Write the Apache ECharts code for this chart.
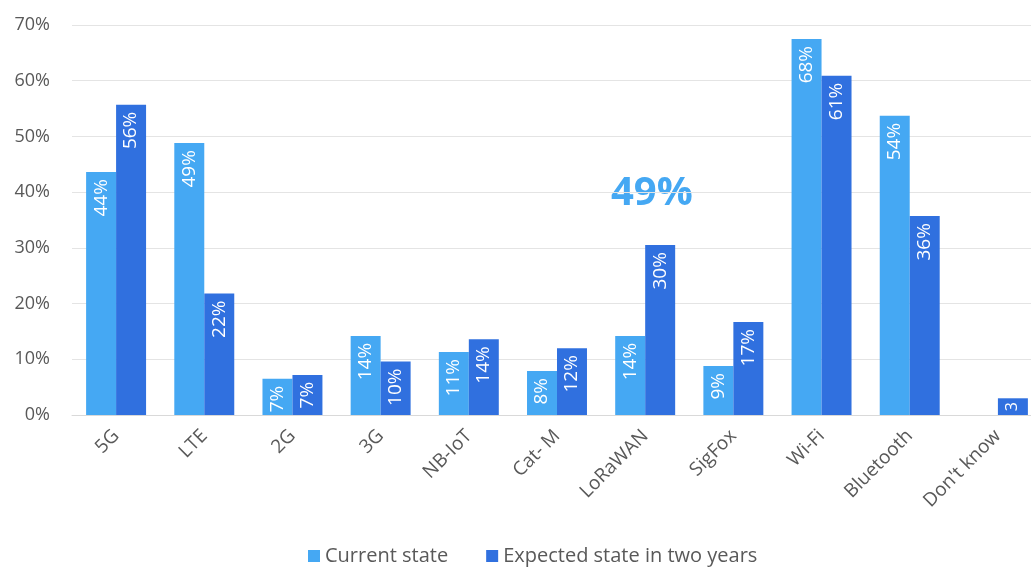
<!DOCTYPE html>
<html><head><meta charset="utf-8">
<script src="https://cdn.jsdelivr.net/npm/echarts@6/dist/echarts.min.js"></script>
<style>html,body{margin:0;padding:0;background:#fff}#c{width:1031px;height:567px}</style>
</head><body><div id="c"></div>
<script>
const categories = ["5G","LTE","2G","3G","NB-IoT","Cat- M","LoRaWAN","SigFox","Wi-Fi","Bluetooth","Don't know"];
const currentState = [43.6,48.8,6.5,14.2,11.3,7.9,14.2,8.8,67.5,53.7,0];
const currentLabels = ["44%","49%","7%","14%","11%","8%","14%","9%","68%","54%",""];
const expectedState = [55.7,21.8,7.2,9.6,13.6,12.0,30.5,16.7,60.9,35.7,3.0];
const expectedLabels = ["56%","22%","7%","10%","14%","12%","30%","17%","61%","36%","3"];
const seriesNames = ["Current state","Expected state in two years"];
const yTicks = [0,10,20,30,40,50,60,70];
const annotationText = "49%";

const FONT = "Open Sans";
const chart = echarts.init(document.getElementById('c'));
function lbl(arr){
  return {show:true, position:'insideTop', rotate:90, align:'right', verticalAlign:'middle',
    distance:7, color:'#fff', fontFamily:FONT, fontSize:19,
    formatter:p=>arr[p.dataIndex]};
}
function items(vals){
  return vals.map(v => v < 4 && v > 0
    ? {value:v, label:{position:'inside', align:'center', distance:0, fontSize:16, lineHeight:16}}
    : v);
}
chart.setOption({
  animation:false,
  textStyle:{fontFamily:FONT},
  grid:{left:72,width:970,top:25,bottom:152,outerBoundsMode:'none',containLabel:false},
  legend:{bottom:-4,left:303,itemWidth:12,itemHeight:12,itemGap:38,icon:'rect',
    textStyle:{fontFamily:FONT,fontSize:20,color:'#595959'},data:seriesNames},
  xAxis:{type:'category',data:categories,
    axisLine:{lineStyle:{color:'#d9d9d9'}},axisTick:{show:false},
    axisLabel:{rotate:45,interval:0,color:'#595959',fontSize:19,fontFamily:FONT,margin:18}},
  yAxis:{type:'value',min:yTicks[0],max:yTicks[yTicks.length-1],interval:10,
    axisLabel:{formatter:v=>v+'%',color:'#595959',fontSize:18,fontFamily:FONT,margin:22},
    splitLine:{lineStyle:{color:'#e4e4e4'}},axisLine:{show:false}},
  series:[
    {name:seriesNames[0],type:'bar',data:items(currentState),barGap:'0%',barCategoryGap:'32%',
      itemStyle:{color:'#45A8F3'},label:lbl(currentLabels)},
    {name:seriesNames[1],type:'bar',data:items(expectedState),barGap:'0%',barCategoryGap:'32%',
      itemStyle:{color:'#3070DF'},label:lbl(expectedLabels)}
  ],
  graphic:[{type:'text',left:611,top:174,style:{text:annotationText,fill:'#45A8F3',
    font:'bold 40px '+FONT}}]
});
</script></body></html>
